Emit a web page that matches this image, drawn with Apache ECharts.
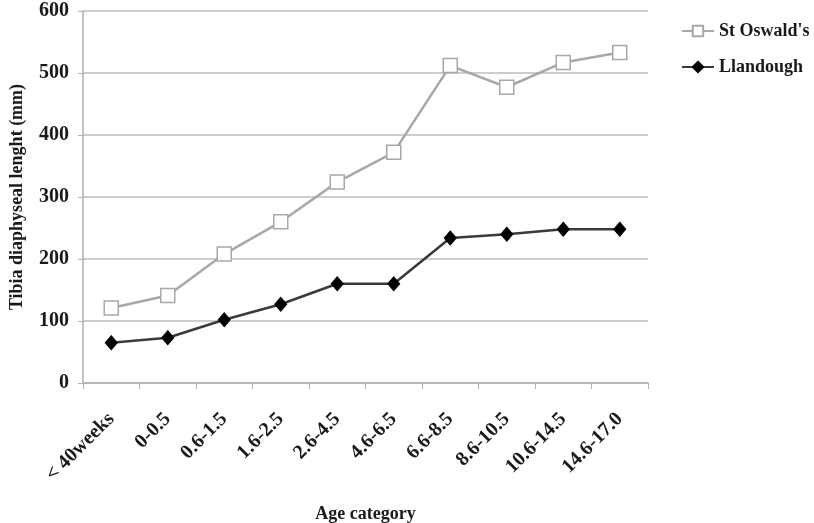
<!DOCTYPE html>
<html><head><meta charset="utf-8">
<script src="https://cdn.jsdelivr.net/npm/echarts@6/dist/echarts.min.js"></script>
<style>html,body{margin:0;padding:0;background:#fff}#c{width:814px;height:523px}</style>
</head><body><div id="c"></div>
<script>
const categories = ['< 40weeks','0-0.5','0.6-1.5','1.6-2.5','2.6-4.5','4.6-6.5','6.6-8.5','8.6-10.5','10.6-14.5','14.6-17.0'];
const stOswalds = [121, 141, 208, 260, 324, 372, 512, 477, 517, 533];
const llandough = [65, 73, 102, 127, 160, 160, 234, 240, 248, 248];
const yTicks = {min: 0, max: 600, interval: 100};
const font = '"Liberation Serif", "Times New Roman", serif';
const chart = echarts.init(document.getElementById('c'));
chart.setOption({
  animation: false,
  textStyle: {fontFamily: font},
  grid: {left: 83, right: 166, top: 11, bottom: 140, containLabel: false, outerBoundsMode: 'none'},
  legend: {
    orient: 'vertical', left: 681, top: 22, itemGap: 18, itemWidth: 32, itemHeight: 13,
    padding: 0,
    textStyle: {fontFamily: font, fontWeight: 'bold', fontSize: 18, color: '#1a1a1a', width: 100, overflow: 'none'},
    data: ["St Oswald's", 'Llandough']
  },
  xAxis: {
    type: 'category', data: categories, boundaryGap: true,
    name: 'Age category', nameLocation: 'middle', nameGap: 122,
    nameTextStyle: {fontFamily: font, fontWeight: 'bold', fontSize: 18, color: '#1a1a1a'},
    axisLine: {lineStyle: {color: '#b0b0b0', width: 1.5}},
    axisTick: {show: true, length: 6, lineStyle: {color: '#b0b0b0'}},
    axisLabel: {rotate: 45, interval: 0, margin: 33, fontFamily: font, fontWeight: 'bold', fontSize: 20, color: '#1a1a1a'}
  },
  yAxis: {
    type: 'value', min: yTicks.min, max: yTicks.max, interval: yTicks.interval,
    name: 'Tibia diaphyseal lenght (mm)', nameLocation: 'middle', nameGap: 57, nameRotate: 90,
    nameTextStyle: {fontFamily: font, fontWeight: 'bold', fontSize: 18, color: '#1a1a1a'},
    axisLine: {show: true, lineStyle: {color: '#b0b0b0', width: 1.5}},
    axisTick: {show: true, length: 5, lineStyle: {color: '#b0b0b0'}},
    axisLabel: {margin: 14, fontFamily: font, fontWeight: 'bold', fontSize: 20, color: '#1a1a1a'},
    splitLine: {lineStyle: {color: '#bdbdbd', width: 1.5}}
  },
  series: [
    {name: "St Oswald's", type: 'line', data: stOswalds, symbol: 'rect', symbolSize: 14,
     lineStyle: {color: '#a8a8a8', width: 2.5}, itemStyle: {color: '#ffffff', borderColor: '#a8a8a8', borderWidth: 1.5}},
    {name: 'Llandough', type: 'line', data: llandough, symbol: 'diamond', symbolSize: [12, 14],
     lineStyle: {color: '#3a3a3a', width: 2.5}, itemStyle: {color: '#000000', borderColor: '#000000', borderWidth: 1}}
  ]
});
</script></body></html>
